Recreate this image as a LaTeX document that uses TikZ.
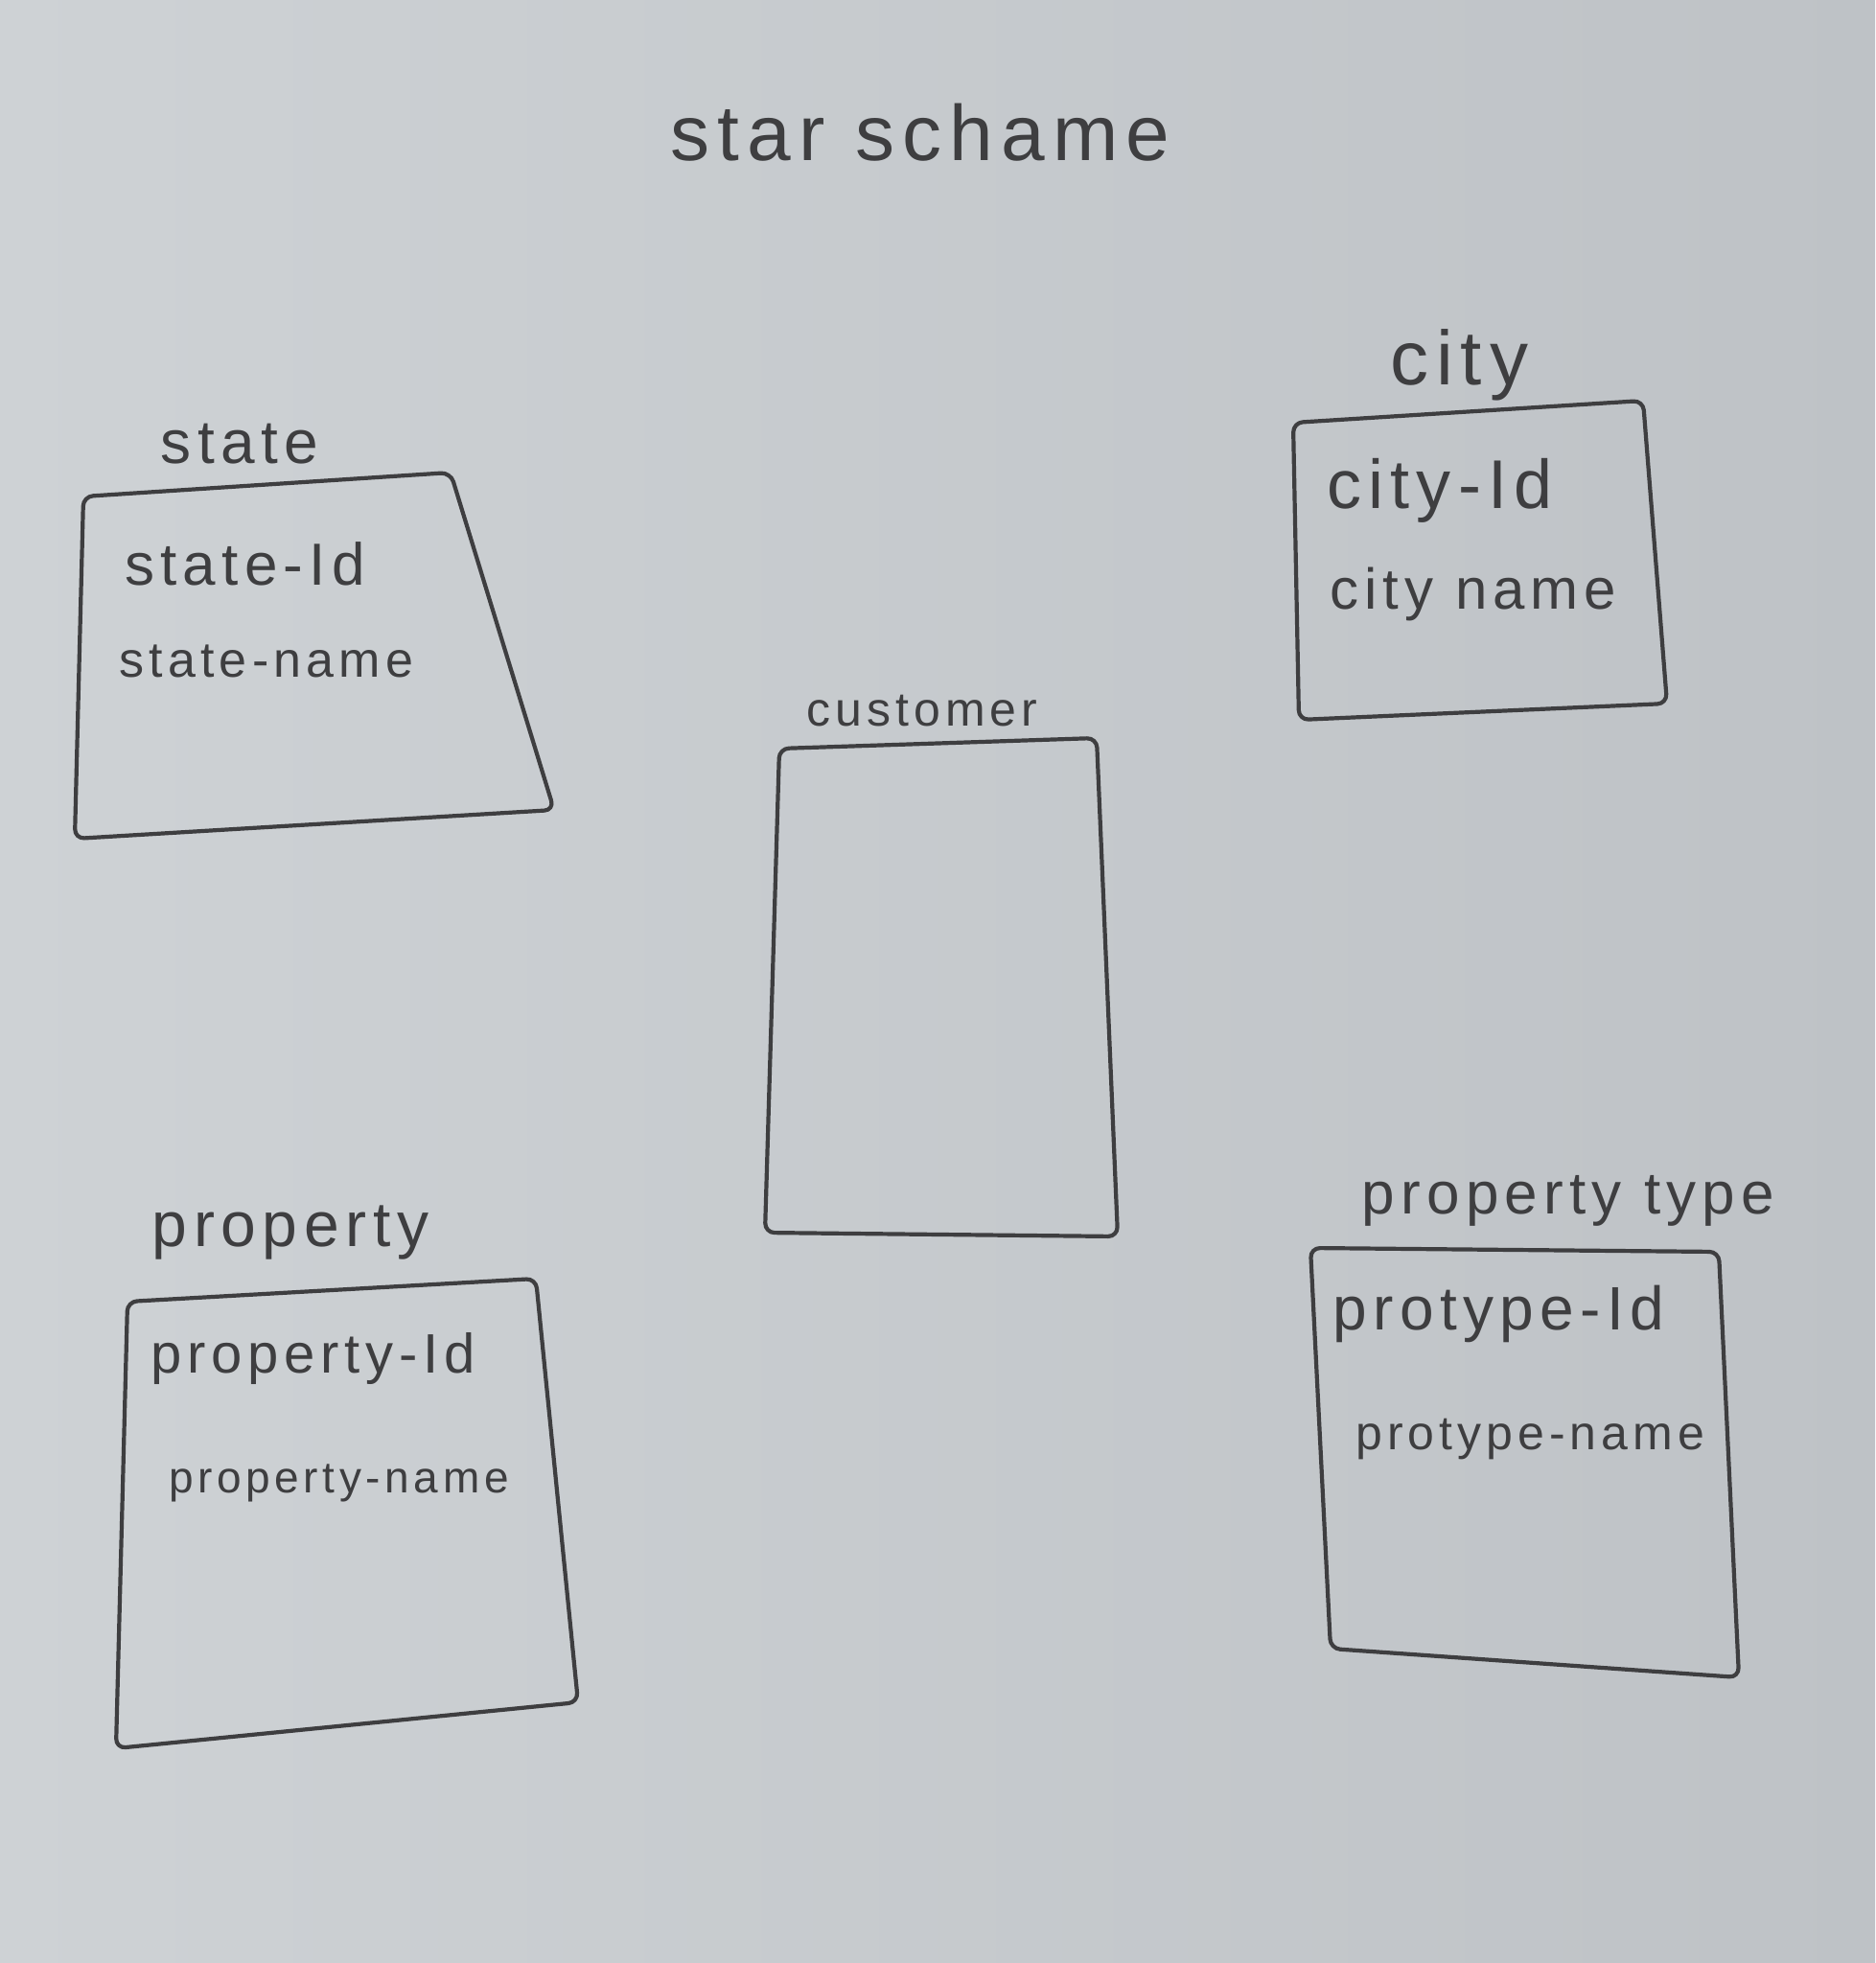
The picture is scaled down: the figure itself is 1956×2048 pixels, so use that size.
\documentclass[tikz,border=0pt]{standalone}
\usepackage{fontspec}
\newfontfamily\hand[LetterSpace=10]{Liberation Sans}
\definecolor{paperL}{RGB}{206,210,213}
\definecolor{paperR}{RGB}{190,194,198}
\definecolor{ink}{RGB}{62,62,64}
\begin{document}
\begin{tikzpicture}[x=0.5pt,y=-0.5pt,
  pen/.style={draw=ink, line width=2.1pt, rounded corners=5pt, line join=round},
  lbl/.style={text=ink, inner sep=0pt, font=\hand},
  fld/.style={lbl, anchor=west}]
% paper
\shade[left color=paperL, right color=paperR] (0,0) rectangle (1956,2048);
\useasboundingbox (0,0) rectangle (1956,2048);
% title
\node[lbl, font=\hand\fontsize{41}{41}\selectfont] (title) at (960,138) {star schame};
% state
\draw[pen] (87,518) -- (470,493) -- (578,845) -- (78,875) -- cycle;
\node[lbl, font=\hand\fontsize{32}{32}\selectfont] (stateT) at (250,463) {state};
\node[fld, font=\hand\fontsize{31}{31}\selectfont] (stateId) at (130,588) {state-Id};
\node[fld, font=\hand\fontsize{26}{26}\selectfont] (stateName) at (124,690) {state-name};
% city
\draw[pen] (1349,441) -- (1714,418) -- (1739,734) -- (1355,751) -- cycle;
\node[lbl, font=\hand\fontsize{40}{40}\selectfont] (cityT) at (1522,381) {city};
\node[fld, font=\hand\fontsize{36}{36}\selectfont] (cityId) at (1384,512) {city-Id};
\node[fld, font=\hand\fontsize{30}{30}\selectfont] (cityName) at (1387,620) {city name};
% customer
\draw[pen] (813,781) -- (1144,770) -- (1166,1290) -- (798,1286) -- cycle;
\node[lbl, font=\hand\fontsize{25}{25}\selectfont] (custT) at (962,742) {customer};
% property
\draw[pen] (133,1358) -- (559,1334) -- (603,1776) -- (121,1824) -- cycle;
\node[lbl, font=\hand\fontsize{33}{33}\selectfont] (propT) at (303,1286) {property};
\node[fld, font=\hand\fontsize{29}{29}\selectfont] (propId) at (157,1417) {property-Id};
\node[fld, font=\hand\fontsize{23}{23}\selectfont] (propName) at (176,1547) {property-name};
% property type
\draw[pen] (1367,1302) -- (1793,1306) -- (1814,1750) -- (1388,1720) -- cycle;
\node[lbl, font=\hand\fontsize{31}{31}\selectfont] (ptypeT) at (1636,1253) {property type};
\node[fld, font=\hand\fontsize{32}{32}\selectfont] (ptypeId) at (1390,1371) {protype-Id};
\node[fld, font=\hand\fontsize{25}{25}\selectfont] (ptypeName) at (1414,1502) {protype-name};
\end{tikzpicture}
\end{document}
